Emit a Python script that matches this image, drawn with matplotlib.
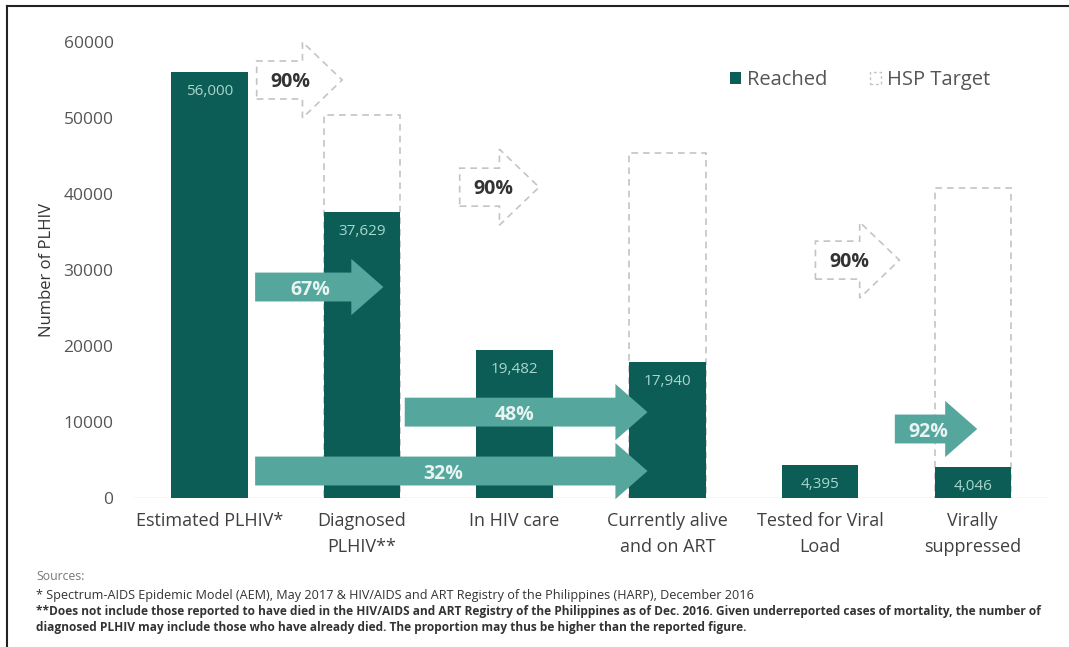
import numpy as np
import matplotlib
matplotlib.use("Agg")
import matplotlib.pyplot as plt
from matplotlib.patches import Polygon, Patch
from matplotlib.lines import Line2D

plt.rcParams['font.family'] = ['Open Sans', 'DejaVu Sans']

# cascade data
categories = ["Estimated PLHIV*", "Diagnosed\nPLHIV**", "In HIV care",
              "Currently alive\nand on ART", "Tested for Viral\nLoad", "Virally\nsuppressed"]
reached = [56000, 37629, 19482, 17940, 4395, 4046]
reached_labels = ["56,000", "37,629", "19,482", "17,940", "4,395", "4,046"]
hsp_target = [None, 50400, None, 45360, None, 40824]

# dashed target arrows: label, x start, x end, y centre
target_pct = ["90%", "90%", "90%"]
target_x0 = [0.31, 1.64, 3.97]
target_x1 = [0.87, 2.16, 4.52]
target_y = [55000, 40900, 31300]

# solid conversion arrows
conv_pct = ["67%", "48%", "32%", "92%"]
conv_x0 = [0.30, 1.28, 0.30, 4.49]
conv_x1 = [1.14, 2.87, 2.87, 5.03]
conv_y = [27760, 11300, 3550, 9080]
conv_text_x = [0.66, 2.0, 1.53, 4.71]

sources = ["Sources:",
           "* Spectrum-AIDS Epidemic Model (AEM), May 2017 & HIV/AIDS and ART Registry of the Philippines (HARP), December 2016",
           "**Does not include those reported to have died in the HIV/AIDS and ART Registry of the Philippines as of Dec. 2016. Given underreported cases of mortality, the number of",
           "diagnosed PLHIV may include those who have already died. The proportion may thus be higher than the reported figure."]

dark = '#0b5d56'
light = '#55a69c'
dash_col = '#c4c4c4'


def arrow_poly(x0, x1, yc, body, head, hl, **kw):
    xb = x1 - hl
    pts = [(x0, yc - body), (xb, yc - body), (xb, yc - head), (x1, yc),
           (xb, yc + head), (xb, yc + body), (x0, yc + body)]
    return Polygon(pts, closed=True, clip_on=False, **kw)


fig = plt.figure(figsize=(10.69, 6.47), dpi=100)
ax = fig.add_axes([133/1069, 1 - 498/647, (1049 - 133)/1069, (498 - 42)/647])

x = np.arange(len(categories))

# target boxes behind
for i, t in enumerate(hsp_target):
    if t is not None:
        ax.bar(x[i], t, width=0.5, facecolor='none', edgecolor=dash_col,
               linestyle=(0, (4, 3)), linewidth=1.2, zorder=1)

ax.bar(x, reached, width=0.5, color=dark, zorder=2)
for i, v in enumerate(reached):
    ax.annotate(reached_labels[i], (x[i], v), xytext=(0, -14), textcoords='offset points',
                ha='center', va='center', color='#a9d6cd', fontsize=11, zorder=3)

# dashed 90% arrows
for i in range(len(target_pct)):
    ax.add_patch(arrow_poly(target_x0[i], target_x1[i], target_y[i], 2500, 5000, 0.26,
                            facecolor='white', edgecolor=dash_col, linestyle=(0, (4, 3)),
                            linewidth=1.2, zorder=3))
    ax.text(target_x0[i] + 0.22, target_y[i] - 300, target_pct[i], ha='center', va='center',
            fontsize=14, fontweight='bold', color='#333333', zorder=4)

# solid conversion arrows
for i in range(len(conv_pct)):
    ax.add_patch(arrow_poly(conv_x0[i], conv_x1[i], conv_y[i], 1900, 3700, 0.21,
                            facecolor=light, edgecolor='none', zorder=4))
    ax.text(conv_text_x[i], conv_y[i] - 400, conv_pct[i], ha='center', va='center',
            fontsize=14, fontweight='bold', color='#e8f4f2', zorder=5)

ax.axhline(0, color='#d9d9d9', lw=1, zorder=0)
ax.set_xlim(-0.5, 5.5)
ax.set_ylim(0, 60000)
ax.set_yticks(np.arange(0, 60001, 10000))
ax.set_xticks(x)
ax.set_xticklabels(categories, linespacing=1.55)
ax.tick_params(axis='y', length=0, pad=14, labelsize=12.5, labelcolor='#555555')
ax.tick_params(axis='x', length=0, pad=10, labelsize=13, labelcolor='#404040')
for s in ax.spines.values():
    s.set_visible(False)

fig.text(47/1069, 1 - 270/647, "Number of PLHIV", rotation=90, ha='center', va='center',
         fontsize=12, color='#333333')

handles = [Patch(facecolor=dark, edgecolor='none'),
           Patch(facecolor='none', edgecolor=dash_col, linestyle=(0, (2, 2)))]
fig.legend(handles, ["Reached", "HSP Target"], loc='center left',
           bbox_to_anchor=(712/1069, 1 - 80/647), ncol=2, frameon=False,
           handlelength=0.55, handleheight=0.55, handletextpad=0.3, columnspacing=2.1,
           fontsize=14.5, labelcolor='#555555')

# footnotes
fy = [577, 595, 611, 628]
fsize = [8.8, 9.1, 8.6, 8.6]
for i, s in enumerate(sources):
    fig.text(36/1069, 1 - fy[i]/647, s, ha='left', va='center', fontsize=fsize[i],
             fontweight='normal' if i < 2 else 'bold',
             color='#777777' if i == 0 else '#333333')

# page frame
fig.add_artist(Line2D([7/1069, 1], [1 - 6/647, 1 - 6/647], transform=fig.transFigure,
                      color='#222222', lw=1.5))
fig.add_artist(Line2D([7/1069, 7/1069], [0, 1 - 6/647], transform=fig.transFigure,
                      color='#222222', lw=1.5))

fig.savefig("out.png", dpi=100, facecolor='white')
